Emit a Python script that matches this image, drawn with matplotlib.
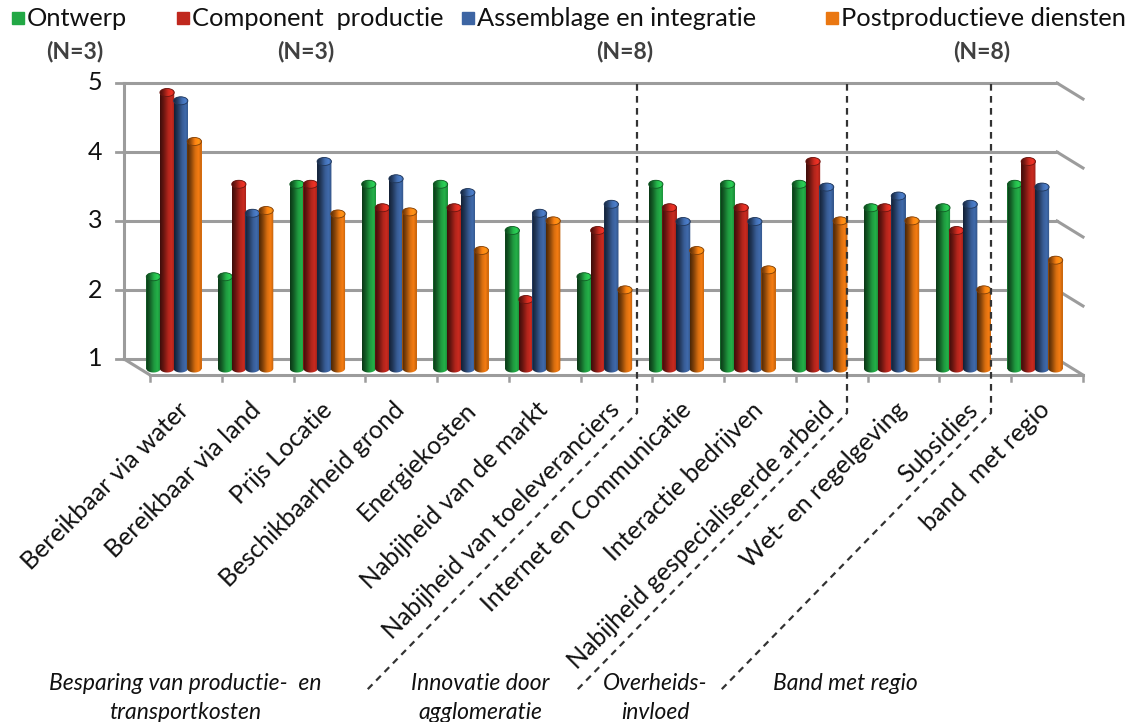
import numpy as np
import matplotlib.pyplot as plt
from matplotlib.colors import LinearSegmentedColormap, to_rgb
from matplotlib.patches import Ellipse, Polygon, Rectangle
from matplotlib.lines import Line2D

plt.rcParams['font.family'] = ['Lato', 'DejaVu Sans']

categories = ["Bereikbaar via water", "Bereikbaar via land", "Prijs Locatie",
              "Beschikbaarheid grond", "Energiekosten", "Nabijheid van de markt",
              "Nabijheid van toeleveranciers", "Internet en Communicatie",
              "Interactie bedrijven", "Nabijheid gespecialiseerde arbeid",
              "Wet- en regelgeving", "Subsidies", "band  met regio"]

series_names = ["Ontwerp", "Component  productie", "Assemblage en integratie",
                "Postproductieve diensten"]
series_n = ["(N=3)", "(N=3)", "(N=8)", "(N=8)"]

ontwerp = [2.33, 2.33, 3.67, 3.67, 3.67, 3.0, 2.33, 3.67, 3.67, 3.67, 3.33, 3.33, 3.67]
component = [5.0, 3.67, 3.67, 3.33, 3.33, 2.0, 3.0, 3.33, 3.33, 4.0, 3.33, 3.0, 4.0]
assemblage = [4.88, 3.25, 4.0, 3.75, 3.55, 3.25, 3.38, 3.13, 3.13, 3.63, 3.5, 3.38, 3.63]
postprod = [4.29, 3.29, 3.24, 3.27, 2.71, 3.14, 2.14, 2.71, 2.43, 3.14, 3.14, 2.14, 2.57]

groups = ["Besparing van productie-  en\ntransportkosten", "Innovatie door\nagglomeratie",
          "Overheids-\ninvloed", "Band met regio"]

yticks = [1, 2, 3, 4, 5]

colors = ["#22a845", "#c0281e", "#3d65a3", "#ea7711"]

W, H = 1133, 722


def fx(x):
    return x / W


def fy(y):
    return 1 - y / H


def shade(c, k=1.0):
    c = np.array(to_rgb(c))
    stops = [(0.0, 0.32), (0.25, 0.55), (0.55, 0.92), (0.78, 1.05), (1.0, 0.8)]
    cols = [(p, tuple(np.clip(c * f * k, 0, 1))) for p, f in stops]
    return LinearSegmentedColormap.from_list("cyl", cols)


fig = plt.figure(figsize=(W / 100, H / 100), dpi=100)

# back wall with gridlines and the fake 3d frame
wall_l, wall_r, wall_b, wall_t = 124, 1057, 359, 83
ncat = len(categories)
ppc = (wall_r - wall_l) / ncat
ppv = (wall_b - wall_t) / 4
wall = fig.add_axes([fx(wall_l), fy(wall_b), (wall_r - wall_l) / W, (wall_b - wall_t) / H])
wall.set_xlim(0, ncat)
wall.set_ylim(1, 5)
wall.axis("off")

gc = "#9c9c9c"
ddx, ddy = 26 / ppc, 16 / ppv
for v in yticks:
    wall.plot([0, ncat], [v, v], color=gc, lw=2.2, clip_on=False, zorder=1)
    wall.plot([ncat, ncat + ddx], [v, v - ddy], color=gc, lw=2.2, clip_on=False, zorder=1)
    wall.plot([-8 / ppc, 0], [v, v], color=gc, lw=2, clip_on=False)
    wall.text(-22 / ppc, v, str(v), ha="right", va="center", fontsize=18, color="#111111")
wall.plot([0, 0], [1, 5], color=gc, lw=2.2, clip_on=False)
wall.plot([0, ddx], [1, 1 - ddy], color=gc, lw=2.2, clip_on=False)
wall.plot([ddx, ncat + ddx], [1 - ddy, 1 - ddy], color=gc, lw=2.2, clip_on=False)
for i in range(ncat + 1):
    wall.plot([ddx + i, ddx + i], [1 - ddy, 1 - ddy - 6 / ppv], color=gc, lw=1.8, clip_on=False)

for i, name in enumerate(categories):
    wall.text(ddx + i + 0.5 - 1 / ppc, 1 - ddy - 31 / ppv, name, rotation=45,
              rotation_mode="anchor", ha="right", va="center", fontsize=18, color="#111111")

# bars sit a little in front of the wall; limits padded so the round caps fit
ylo, yhi = 0.7, 5.3
base_px = 368.5
ax = fig.add_axes([fx(138), fy(base_px + (1 - ylo) * ppv), (wall_r - wall_l) / W,
                   (yhi - ylo) * ppv / H])
ax.patch.set_alpha(0)
ax.axis("off")

x = np.arange(ncat) + 0.5
bw = 0.19
cap = 8 / ppv
grad = np.linspace(0, 1, 64).reshape(1, -1)
t = np.linspace(0, np.pi, 30)

for j, vals in enumerate([ontwerp, component, assemblage, postprod]):
    vals = np.array(vals)
    bars = ax.bar(x + (j - 1.5) * bw, vals - 1, width=bw + 0.01, bottom=1,
                  color=colors[j], zorder=2 + j)
    for r in bars:
        x0, w = r.get_x(), r.get_width()
        top = r.get_y() + r.get_height()
        xc = x0 + w / 2
        up = np.column_stack([xc - w / 2 * np.cos(t), top + cap / 2 * np.sin(t)])
        dn = np.column_stack([xc + w / 2 * np.cos(t), 1 - cap / 2 * np.sin(t)])
        body = Polygon(np.vstack([up, dn]), closed=True, transform=ax.transData)
        im = ax.imshow(grad, cmap=shade(colors[j]), extent=[x0, x0 + w, 1 - cap, top + cap],
                       aspect="auto", zorder=2 + j, interpolation="bilinear")
        im.set_clip_path(body)
        lid = Ellipse((xc, top), w, cap, transform=ax.transData)
        im2 = ax.imshow(grad, cmap=shade(colors[j], 1.2), extent=[x0, x0 + w, top - cap, top + cap],
                        aspect="auto", zorder=2 + j, interpolation="bilinear")
        im2.set_clip_path(lid)
        ax.add_patch(Ellipse((xc, top), w, cap, fill=False, lw=0.6,
                             ec=tuple(np.array(to_rgb(colors[j])) * 0.55), zorder=2 + j))

ax.set_xlim(0, ncat)
ax.set_ylim(ylo, yhi)

# dashed separators between the groups of factors
for sx in [637, 847, 991]:
    fig.add_artist(Line2D([fx(sx), fx(sx), fx(sx - 272)], [fy(84), fy(413), fy(692)],
                          transform=fig.transFigure, color="#333333", lw=1.6,
                          ls=(0, (3, 2.4)), zorder=10))

# legend across the top
leg_x = [12, 177, 462, 826]
for k in range(4):
    fig.add_artist(Rectangle((fx(leg_x[k]), fy(24)), 12 / W, 12 / H,
                             transform=fig.transFigure, color=colors[k]))
    fig.text(fx(leg_x[k] + 15), fy(18), series_names[k], ha="left", va="center",
             fontsize=18.3, color="#111111")

n_x = [75, 306, 625, 982]
for k in range(4):
    fig.text(fx(n_x[k]), fy(52), series_n[k], ha="center", va="center",
             fontsize=16.5, fontweight="bold", color="#404040")

grp_x = [185, 480, 655, 845]
for k in range(4):
    fig.text(fx(grp_x[k]), fy(673), groups[k], ha="center", va="top",
             fontsize=16.5, style="italic", color="#111111", linespacing=1.45)

fig.savefig("out.png", dpi=100)
